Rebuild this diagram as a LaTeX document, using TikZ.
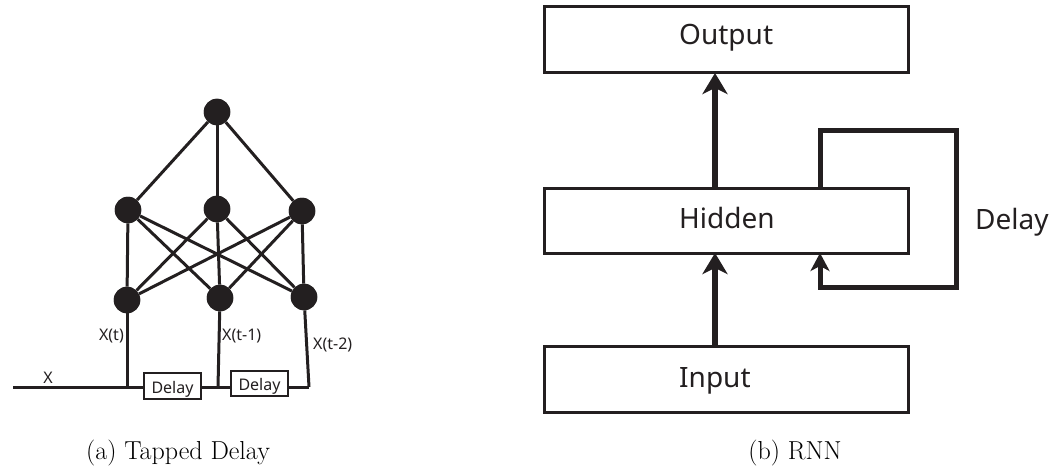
\documentclass[tikz,border=0pt]{standalone}
\usepackage{fontspec}
\newfontfamily\diagfont{Noto Sans}
\usetikzlibrary{arrows.meta}
\definecolor{ink}{HTML}{231F20}

\begin{document}
\begin{tikzpicture}[x=1pt, y=-1pt,
  neuron/.style={circle, fill=ink, draw=none, minimum size=26.5pt, inner sep=0pt},
  wire/.style={draw=ink, line width=3pt},
  delaybox/.style={draw=ink, line width=2.3pt, fill=white, inner sep=0pt, outer sep=0pt,
    minimum width=57pt},
  tap/.style={font=\diagfont\fontsize{16}{20}\selectfont, text=ink, inner sep=0pt},
  layerbox/.style={draw=ink, line width=3pt, fill=white, inner sep=0pt, outer sep=0pt,
    minimum width=364pt},
  layertext/.style={font=\diagfont\fontsize{28}{34}\selectfont, text=ink, inner sep=0pt, anchor=base west},
  flow/.style={draw=ink, line width=6pt, -{Stealth[length=21pt, width=25pt, inset=6pt]}},
  recur/.style={draw=ink, line width=5pt, -{Stealth[length=18pt, width=19pt, inset=5pt]}},
  caption/.style={font=\fontsize{26}{30}\selectfont, inner sep=0pt, anchor=base},
]
\useasboundingbox (0,0) rectangle (1060,468);

% ---------- (a) tapped delay network ----------
\node[neuron] (n0) at (217,112) {};
\node[neuron] (m1) at (128,210) {};
\node[neuron] (m2) at (217,209) {};
\node[neuron] (m3) at (302,211) {};
\node[neuron] (b1) at (127,300) {};
\node[neuron] (b2) at (220,298) {};
\node[neuron] (b3) at (304,297) {};

\coordinate (xin) at (13,387);
\coordinate (t1) at (127,387);
\coordinate (t2) at (218,387);
\coordinate (t3) at (309,387);

\coordinate (d1) at (172.5,386);
\coordinate (d2) at (259.5,383.5);

% connections between the layers and the tap line
\foreach \m in {m1,m2,m3} \draw[wire] (n0) -- (\m);
\foreach \m in {m1,m2,m3}
  \foreach \b in {b1,b2,b3}
    \draw[wire] (\m) -- (\b);
\draw[wire] (b1) -- (t1);
\draw[wire] (b2) -- (t2);
\draw[wire] (b3) -- (t3);
\draw[wire] (xin) -- (t1) -- (t2) -- (t3);

% neurons and delay boxes drawn over the wires
\foreach \n in {n0,m1,m2,m3,b1,b2,b3} \node[neuron] at (\n) {};
\node[delaybox, minimum height=26pt] (db1) at (d1) {};
\node[delaybox, minimum height=25pt] (db2) at (d2) {};
\node[tap, anchor=base] (d1t) at (172.5,393) {Delay};
\node[tap, anchor=base] (d2t) at (259.5,390) {Delay};

\node[tap, anchor=base] (lx) at (48,383) {X};
\node[tap, anchor=base east] (lt0) at (124,340) {X(t)};
\node[tap, anchor=base west] (lt1) at (222,340) {X(t-1)};
\node[tap, anchor=base west] (lt2) at (313,349) {X(t-2)};

\node[caption] (capa) at (178,459) {(a) Tapped Delay};

% ---------- (b) recurrent network ----------
\node[layerbox, minimum height=66pt] (out) at (726,40) {};
\node[layerbox, minimum height=65pt] (hid) at (726,220.5) {};
\node[layerbox, minimum height=66pt] (inp) at (726,379) {};

\node[layertext] (outt) at (679,45) {Output};
\node[layertext] (hidt) at (679,228) {Hidden};
\node[layertext] (inpt) at (679,387) {Input};

\coordinate (ax) at (715,0);
\draw[flow] (ax |- inp.north) -- (ax |- hid.south);
\draw[flow] (ax |- hid.north) -- (ax |- out.south);

\coordinate (lpTL) at (820,131);
\coordinate (lpTR) at (956,131);
\coordinate (lpBR) at (956,287);
\coordinate (lpBL) at (820,287);
\draw[recur] (lpTL |- hid.north) -- (lpTL) -- (lpTR) -- (lpBR) -- (lpBL) -- (lpBL |- hid.south);

\node[font=\diagfont\fontsize{28}{34}\selectfont, text=ink, inner sep=0pt, anchor=base west] (dl) at (975,229) {Delay};

\node[caption] (capb) at (795,459) {(b) RNN};
\end{tikzpicture}
\end{document}
